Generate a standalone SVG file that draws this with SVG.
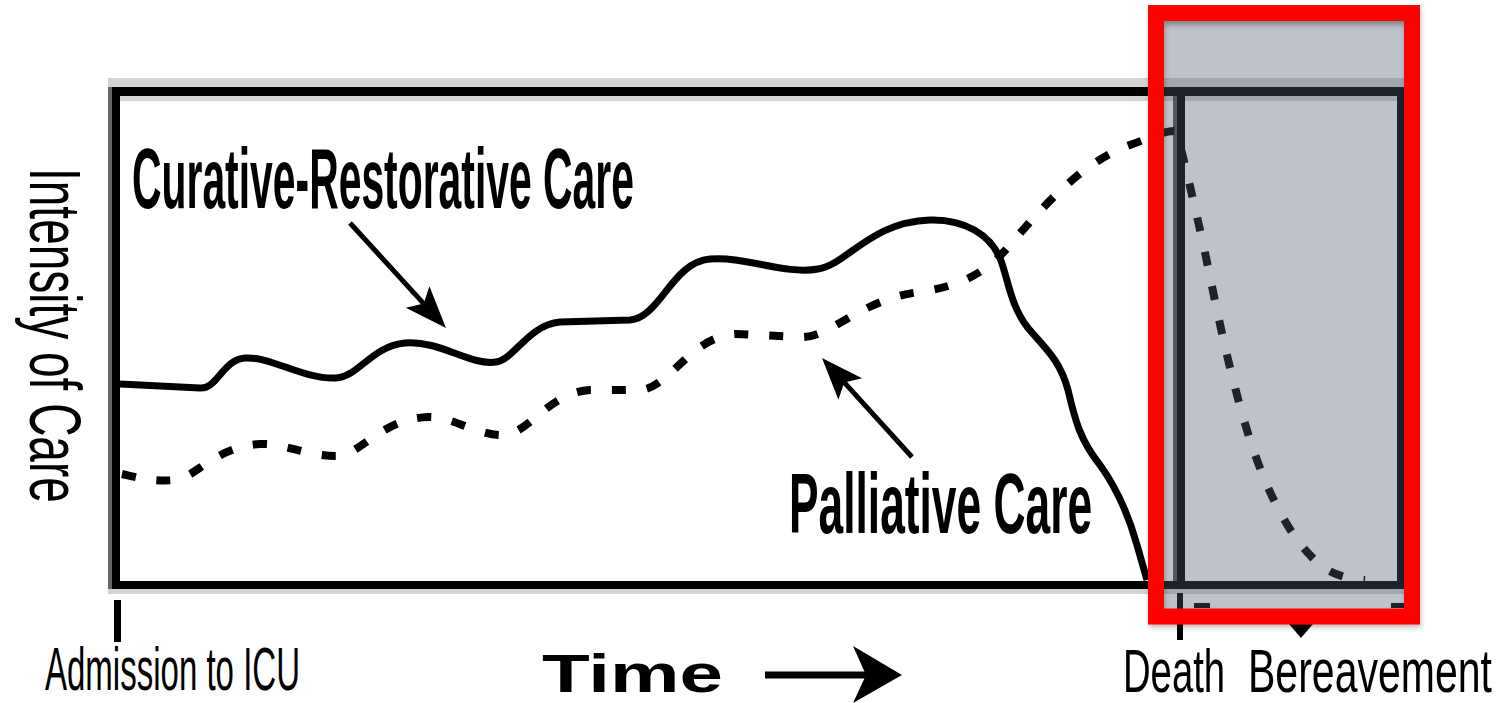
<svg xmlns="http://www.w3.org/2000/svg" width="1506" height="703" viewBox="0 0 1506 703">
<style>
.lbl{font-family:"Liberation Sans",Arial,sans-serif;fill:#000;}
.big{font-size:86px;font-weight:bold;}
.axis{font-size:61px;}
.curve{fill:none;stroke:#000;stroke-width:7;stroke-linecap:butt;stroke-linejoin:round;}
.dash{stroke-width:8;stroke-dasharray:14 21;}
.conn{fill:none;stroke:#000;stroke-width:5;}
</style>
<defs>
<marker id="head" markerUnits="userSpaceOnUse" orient="auto" overflow="visible" refX="0" refY="0" markerWidth="1" markerHeight="1">
<path d="M33,0 L-9,-16 L0,0 L-9,16 Z" fill="#000"/>
</marker>
<marker id="bighead" markerUnits="userSpaceOnUse" orient="auto" overflow="visible" refX="0" refY="0" markerWidth="1" markerHeight="1">
<path d="M36,0 L-13,-29 L0,0 L-13,28 Z" fill="#000"/>
</marker>
<filter id="shadow" x="-10%" y="-10%" width="120%" height="120%">
<feDropShadow dx="1" dy="3" stdDeviation="2.5" flood-color="#000" flood-opacity="0.25"/>
</filter>
<linearGradient id="topshade" x1="0" y1="0" x2="0" y2="1">
<stop offset="0" stop-color="#000" stop-opacity="0.12"/>
<stop offset="1" stop-color="#000" stop-opacity="0"/>
</linearGradient>
</defs>
<rect width="1506" height="703" fill="#fff"/>
<g id="frame">
<rect x="108" y="78" width="1296" height="23" fill="#d3d3d3"/>
<rect x="108" y="589" width="1296" height="5" fill="#d3d3d3"/>
<rect x="120" y="96" width="1277" height="485" fill="#fff"/>
<rect x="120" y="96" width="1277" height="5" fill="#d3d3d3"/>
<rect x="108" y="87" width="4" height="502" fill="#666"/>
<rect x="112" y="87" width="1292" height="9" fill="#000"/>
<rect x="112" y="581" width="1292" height="8" fill="#000"/>
<rect x="112" y="87" width="8" height="502" fill="#000"/>
<rect x="1397" y="87" width="7" height="502" fill="#000"/>
<rect x="1173" y="96" width="4" height="485" fill="#555"/>
<rect x="1177" y="96" width="8" height="485" fill="#000"/>
<rect x="114" y="600" width="7" height="42" fill="#000"/>
<rect x="1177" y="593" width="6" height="47" fill="#000"/>
<rect x="1194" y="603" width="16" height="5" fill="#000"/>
<rect x="1391" y="603" width="13" height="5" fill="#000"/>
<polygon points="1289,624 1313,624 1301,638" fill="#000"/>
</g>
<g id="curative-curve">
<path class="curve" d="M120,384 L200,388 C218,389 222,360 245,358 C270,356 305,380 336,378 C358,377 372,346 405,343 C440,340 470,366 496,362 C515,359 528,325 560,322 L630,320 C660,318 672,262 710,259 C745,256 785,275 818,269 C848,264 870,222 930,220 C965,219 990,235 1000,258 C1008,278 1010,305 1028,328 C1045,348 1060,360 1068,390 C1075,420 1080,440 1100,465 C1118,490 1130,520 1137,545 L1147,580"/>
</g>
<g id="palliative-curve">
<path class="curve dash" d="M122,474 C140,478 155,482 175,480 C195,478 215,447 260,444 C285,443 305,456 336,456 C360,456 380,419 428,417 C452,416 480,437 505,435 C530,432 550,392 590,390 L640,390 C670,388 690,337 735,334 L800,337 C830,339 860,299 920,292 C960,286 985,274 1010,245 C1040,210 1080,163 1130,145 C1150,138 1165,130 1176,131 C1182,150 1192,195 1203,243 C1215,300 1228,370 1250,440 C1268,495 1290,535 1310,555 C1325,572 1340,578 1365,580"/>
</g>
<g id="connectors">
<line class="conn" x1="350" y1="223" x2="423.7" y2="303.6" marker-end="url(#head)"/>
<line class="conn" x1="912" y1="457" x2="844.2" y2="382.4" marker-end="url(#head)"/>
<line x1="765" y1="675" x2="866" y2="675" stroke="#000" stroke-width="7" marker-end="url(#bighead)"/>
</g>
<g id="label-curative"><text class="lbl big" transform="translate(132,208) scale(0.505,1)" x="0" y="0" textLength="994" lengthAdjust="spacingAndGlyphs">Curative-Restorative Care</text></g>
<g id="label-palliative"><text class="lbl big" transform="translate(789,533) scale(0.552,1)" x="0" y="0" textLength="549" lengthAdjust="spacingAndGlyphs">Palliative Care</text></g>
<g id="label-yaxis"><text class="lbl" font-size="72" fill="#222" transform="translate(30,168) rotate(90) scale(0.639,1)" x="0" y="0" textLength="524" lengthAdjust="spacingAndGlyphs">Intensity of Care</text></g>
<g id="label-admission"><text class="lbl axis" font-size="60" transform="translate(45,690) scale(0.55,1)" x="0" y="0" textLength="463.6" lengthAdjust="spacingAndGlyphs">Admission to ICU</text></g>
<g id="label-time"><text class="lbl" font-size="54" font-weight="bold" transform="translate(542,692) scale(1.436,1)" x="0" y="0" textLength="126" lengthAdjust="spacingAndGlyphs">Time</text></g>
<g id="label-death"><text class="lbl axis" transform="translate(1123,692) scale(0.626,1)" x="0" y="0" textLength="163" lengthAdjust="spacingAndGlyphs">Death</text></g>
<g id="label-bereavement"><text class="lbl axis" transform="translate(1248,692) scale(0.672,1)" x="0" y="0" textLength="363" lengthAdjust="spacingAndGlyphs">Bereavement</text></g>
<g id="highlight">
<rect x="1156" y="13" width="256" height="603.5" fill="rgb(80,91,113)" fill-opacity="0.373"/>
<rect x="1164" y="21" width="240" height="10" fill="url(#topshade)"/>
<rect x="1156" y="13" width="256" height="603.5" fill="none" stroke="#ff0000" stroke-width="16" filter="url(#shadow)"/>
</g>
</svg>
